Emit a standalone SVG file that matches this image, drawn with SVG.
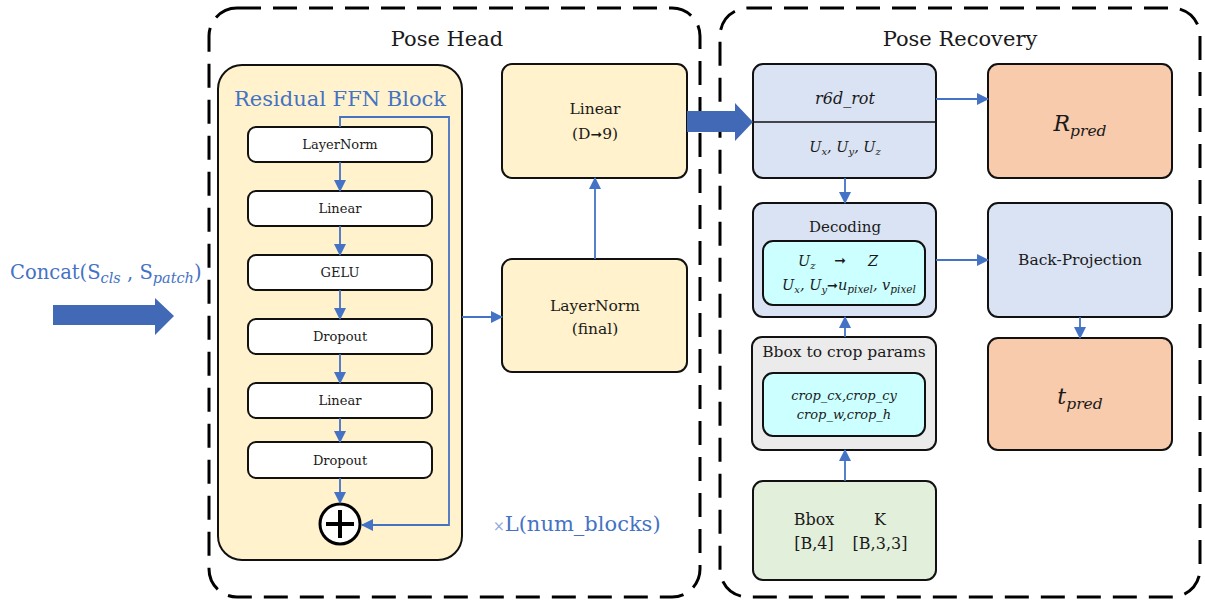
<svg xmlns="http://www.w3.org/2000/svg" width="1205" height="606" viewBox="0 0 1205 606" font-family="'DejaVu Serif', 'Liberation Serif', serif">
<style>
  text { fill: #1a1a1a; }
  .blue { fill: #4472C4; }
  .frame { fill: none; stroke: #000; stroke-width: 3; stroke-dasharray: 24 12; }
  .node { stroke: #111; stroke-width: 2; }
  .yel { fill: #FFF2CC; }
  .wht { fill: #FFFFFF; }
  .lblue { fill: #DAE3F3; }
  .cyan { fill: #CCFFFF; }
  .grey { fill: #EBEBEB; }
  .green { fill: #E2EFDA; }
  .orange { fill: #F8CBAD; }
  .conn { fill: none; stroke: #4472C4; stroke-width: 1.8; }
  .it { font-style: italic; }
</style>
<defs>
  <marker id="ah" markerUnits="userSpaceOnUse" markerWidth="12" markerHeight="12" refX="11" refY="6" orient="auto">
    <path d="M0,0 L12,6 L0,12 Z" fill="#4472C4"/>
  </marker>
</defs>

<!-- frames -->
<g id="frames">
  <rect class="frame" x="209" y="8" width="491" height="589" rx="28"/>
  <rect class="frame" x="720" y="8" width="480" height="589" rx="28"/>
  <text x="447" y="46" font-size="21" text-anchor="middle">Pose Head</text>
  <text x="960" y="46" font-size="21" text-anchor="middle">Pose Recovery</text>
</g>

<!-- input -->
<g id="input">
  <text x="10" y="279" class="blue" font-size="19.5">Concat(S<tspan class="it" font-size="14.5" dy="4">cls</tspan><tspan dy="-4"> , S</tspan><tspan class="it" font-size="14.5" dy="4">patch</tspan><tspan dy="-4">)</tspan></text>
  <path d="M53,305 L155,305 L155,298 L174,316 L155,335 L155,325 L53,325 Z" fill="#4169B5"/>
</g>

<!-- Residual FFN Block -->
<g id="ffn-block">
  <rect class="node yel" x="218" y="65" width="244" height="495" rx="24"/>
  <text x="340" y="106" class="blue" font-size="21" text-anchor="middle">Residual FFN Block</text>
</g>
<g id="ffn-layernorm">
  <rect class="node wht" x="248" y="127" width="184" height="35" rx="8"/>
  <text x="340" y="149" font-size="13" text-anchor="middle">LayerNorm</text>
</g>
<g id="ffn-linear1">
  <rect class="node wht" x="248" y="191" width="184" height="35" rx="8"/>
  <text x="340" y="213" font-size="13" text-anchor="middle">Linear</text>
</g>
<g id="ffn-gelu">
  <rect class="node wht" x="248" y="255" width="184" height="35" rx="8"/>
  <text x="340" y="277" font-size="13" text-anchor="middle">GELU</text>
</g>
<g id="ffn-dropout1">
  <rect class="node wht" x="248" y="319" width="184" height="35" rx="8"/>
  <text x="340" y="341" font-size="13" text-anchor="middle">Dropout</text>
</g>
<g id="ffn-linear2">
  <rect class="node wht" x="248" y="383" width="184" height="35" rx="8"/>
  <text x="340" y="405" font-size="13" text-anchor="middle">Linear</text>
</g>
<g id="ffn-dropout2">
  <rect class="node wht" x="248" y="442" width="184" height="36" rx="8"/>
  <text x="340" y="465" font-size="13" text-anchor="middle">Dropout</text>
</g>
<g id="ffn-add">
  <circle cx="340" cy="524" r="20" fill="#fff" stroke="#000" stroke-width="3"/>
  <path d="M340,510 L340,538 M326,524 L354,524" stroke="#000" stroke-width="4"/>
</g>
<g id="times-l">
  <text x="493" y="531" class="blue" font-size="21"><tspan font-size="14" fill="#8FA8DA">×</tspan>L(num_blocks)</text>
</g>

<!-- Linear (D->9) -->
<g id="linear-head">
  <rect class="node yel" x="502" y="64" width="185" height="114" rx="10"/>
  <text x="595" y="114" font-size="15.5" text-anchor="middle">Linear</text>
  <text x="595" y="139" font-size="15.5" text-anchor="middle">(D<tspan font-family="DejaVu Sans, sans-serif" font-size="14">➞</tspan>9)</text>
</g>
<g id="layernorm-final">
  <rect class="node yel" x="502" y="259" width="185" height="113" rx="10"/>
  <text x="595" y="311" font-size="15.5" text-anchor="middle">LayerNorm</text>
  <text x="595" y="334" font-size="15.5" text-anchor="middle">(final)</text>
</g>

<!-- Pose Recovery -->
<g id="r6d">
  <rect class="node lblue" x="753" y="64" width="183" height="114" rx="10"/>
  <line x1="753" y1="122" x2="936" y2="122" stroke="#111" stroke-width="1.5"/>
  <text x="845" y="104" font-size="16" class="it" text-anchor="middle">r6d_rot</text>
  <text x="845" y="152" font-size="14.5" class="it" text-anchor="middle">U<tspan font-size="10" dy="3">x</tspan><tspan dy="-3">, U</tspan><tspan font-size="10" dy="3">y</tspan><tspan dy="-3">, U</tspan><tspan font-size="10" dy="3">z</tspan></text>
</g>
<g id="decoding">
  <rect class="node lblue" x="753" y="203" width="183" height="114" rx="10"/>
  <text x="845" y="232" font-size="15" text-anchor="middle">Decoding</text>
  <rect class="node cyan" x="763" y="241" width="162" height="64" rx="10"/>
  <text x="798" y="266" font-size="14.5" class="it">U<tspan font-size="10" dy="3">z</tspan></text>
  <text x="840" y="265" font-size="14" font-family="DejaVu Sans, sans-serif" text-anchor="middle">➞</text>
  <text x="873" y="266" font-size="14.5" class="it" text-anchor="middle">Z</text>
  <text x="849" y="290" font-size="14.5" class="it" text-anchor="middle">U<tspan font-size="10" dy="3">x</tspan><tspan dy="-3">, U</tspan><tspan font-size="10" dy="3">y</tspan><tspan dy="-3" font-family="DejaVu Sans, sans-serif" font-style="normal" font-size="13">➞</tspan><tspan>u</tspan><tspan font-size="10.5" dy="3">pixel</tspan><tspan dy="-3">, v</tspan><tspan font-size="10.5" dy="3">pixel</tspan></text>
</g>
<g id="crop-params">
  <rect class="node grey" x="752" y="337" width="184" height="113" rx="10"/>
  <text x="844" y="357" font-size="15.5" text-anchor="middle">Bbox to crop params</text>
  <rect class="node cyan" x="763" y="373" width="162" height="63" rx="10"/>
  <text x="844" y="400" font-size="13" class="it" text-anchor="middle">crop_cx,crop_cy</text>
  <text x="844" y="419" font-size="13" class="it" text-anchor="middle">crop_w,crop_h</text>
</g>
<g id="bbox-k">
  <rect class="node green" x="753" y="481" width="183" height="99" rx="10"/>
  <text x="814" y="525" font-size="16" text-anchor="middle">Bbox</text>
  <text x="880" y="525" font-size="16" text-anchor="middle">K</text>
  <text x="814" y="549" font-size="16" text-anchor="middle">[B,4]</text>
  <text x="880" y="549" font-size="16" text-anchor="middle">[B,3,3]</text>
</g>
<g id="r-pred">
  <rect class="node orange" x="988" y="64" width="184" height="114" rx="10"/>
  <text x="1080" y="131" font-size="22" class="it" text-anchor="middle">R<tspan font-size="15.5" dy="5">pred</tspan></text>
</g>
<g id="back-projection">
  <rect class="node lblue" x="988" y="203" width="184" height="114" rx="10"/>
  <text x="1080" y="265" font-size="15.5" text-anchor="middle">Back-Projection</text>
</g>
<g id="t-pred">
  <rect class="node orange" x="988" y="338" width="184" height="112" rx="10"/>
  <text x="1080" y="404" font-size="22" class="it" text-anchor="middle">t<tspan font-size="15.5" dy="5">pred</tspan></text>
</g>

<!-- connectors -->
<g id="connectors">
  <line class="conn" x1="340" y1="162" x2="340" y2="191" marker-end="url(#ah)"/>
  <line class="conn" x1="340" y1="226" x2="340" y2="255" marker-end="url(#ah)"/>
  <line class="conn" x1="340" y1="290" x2="340" y2="319" marker-end="url(#ah)"/>
  <line class="conn" x1="340" y1="354" x2="340" y2="383" marker-end="url(#ah)"/>
  <line class="conn" x1="340" y1="418" x2="340" y2="442" marker-end="url(#ah)"/>
  <line class="conn" x1="340" y1="478" x2="340" y2="503" marker-end="url(#ah)"/>
  <polyline class="conn" points="340,127 340,117 449,117 449,525 362,525" marker-end="url(#ah)"/>
  <line class="conn" x1="462" y1="317" x2="502" y2="317" marker-end="url(#ah)"/>
  <line class="conn" x1="595" y1="259" x2="595" y2="178" marker-end="url(#ah)"/>
  <path d="M687,111 L735,111 L735,103 L753,122 L735,141 L735,132 L687,132 Z" fill="#4169B5"/>
  <line class="conn" x1="936" y1="99" x2="988" y2="99" marker-end="url(#ah)"/>
  <line class="conn" x1="845" y1="178" x2="845" y2="203" marker-end="url(#ah)"/>
  <line class="conn" x1="936" y1="260" x2="988" y2="260" marker-end="url(#ah)"/>
  <line class="conn" x1="1080" y1="317" x2="1080" y2="338" marker-end="url(#ah)"/>
  <line class="conn" x1="845" y1="337" x2="845" y2="317" marker-end="url(#ah)"/>
  <line class="conn" x1="845" y1="481" x2="845" y2="450" marker-end="url(#ah)"/>
</g>
</svg>
